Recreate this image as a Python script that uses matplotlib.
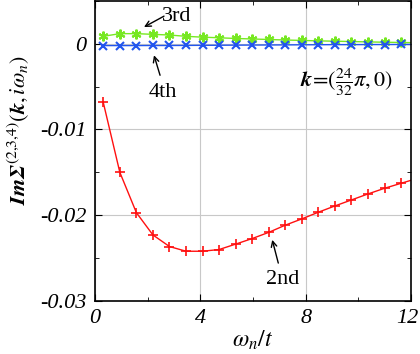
import numpy as np
import matplotlib
matplotlib.use('Agg')
import matplotlib.pyplot as plt
from matplotlib.transforms import ScaledTranslation

plt.rcParams['font.family'] = 'Liberation Serif'
plt.rcParams['mathtext.fontset'] = 'stix'

# Matsubara frequencies w_n = (2n+1) pi T, T = 0.1t
n = np.arange(20)
omega = (2 * n + 1) * np.pi * 0.1

second = [-0.00686, -0.0150, -0.0197, -0.0223, -0.02365, -0.0242, -0.0242,
          -0.0240, -0.02337, -0.02272, -0.0220, -0.02116, -0.02043, -0.01965,
          -0.01892, -0.01822, -0.01752, -0.01686, -0.01628, -0.0157]
third = [0.00085, 0.00116, 0.00116, 0.00108, 0.00100, 0.00085, 0.00075,
         0.00068, 0.00060, 0.00054, 0.00048, 0.00042, 0.00037, 0.00032,
         0.00028, 0.00024, 0.00020, 0.00016, 0.00013, 0.00010]
fourth = [-0.00023, -0.00023, -0.00023, -0.00022, -0.00022, -0.00021, -0.00020,
          -0.00019, -0.00018, -0.00017, -0.00016, -0.00015, -0.00014, -0.00013,
          -0.00012, -0.00012, -0.00011, -0.00011, -0.00010, -0.00010]

fig = plt.figure(figsize=(4.2, 3.54), dpi=100)
ax = fig.add_axes([0.2262, 0.1497, 0.7524, 0.8483])

ax.plot(omega, second, color='#ff1010', lw=1.0, marker='+', ms=6.5, mew=1.2)
ax.plot(omega, third, color='#77e822', lw=1.0, marker=(6, 2, 0), ms=7, mew=1.5)
ax.plot(omega, fourth, color='#2255ee', lw=1.0, marker='x', ms=6, mew=1.5)

ax.set_xlim(0, 12)
ax.set_ylim(-0.03, 0.005)
ax.set_xticks([0, 4, 8, 12])
ax.set_xticks([2, 6, 10], minor=True)
ax.set_yticks([0, -0.01, -0.02, -0.03])
ax.set_yticklabels(['0', '-0.01', '-0.02', '-0.03'])
ax.set_yticks([0.005, -0.005, -0.015, -0.025], minor=True)
ax.tick_params(which='both', direction='in', top=True, right=True, labelsize=16, pad=6)
ax.tick_params(which='major', length=5)
ax.tick_params(which='minor', length=3)
for lab in ax.get_xticklabels() + ax.get_yticklabels():
    lab.set_fontstyle('italic')
# pull the last x label in a little so it stays inside the figure
last = ax.get_xticklabels()[-1]
last.set_transform(last.get_transform() + ScaledTranslation(-4 / 100, 0, fig.dpi_scale_trans))
ax.grid(True, which='major', color='#c8c8c8', lw=0.8)
ax.set_axisbelow(True)
for s in ax.spines.values():
    s.set_linewidth(1.2)

ax.set_xlabel(r'$\omega_n/t$', fontsize=17, labelpad=0)
ax.set_ylabel(r'$\mathbfit{Im\Sigma}^{(2{,}3{,}4)}(\mathbfit{k},i\omega_n)$', fontsize=16)
ax.yaxis.set_label_coords(-0.2, 0.57)

arrow = dict(arrowstyle='->', color='black', lw=1.0, shrinkA=0, shrinkB=0)
ax.text(3.11, 0.00317, '3rd', fontsize=16, ha='center', va='center')
ax.annotate('', xy=(1.86, 0.00193), xytext=(2.62, 0.0032), arrowprops=arrow)
ax.text(2.58, -0.00566, '4th', fontsize=16, ha='center', va='center')
ax.annotate('', xy=(2.24, -0.00136), xytext=(2.47, -0.00369), arrowprops=arrow)
ax.text(7.13, -0.02744, '2nd', fontsize=16, ha='center', va='center')
ax.annotate('', xy=(6.73, -0.02287), xytext=(6.96, -0.02558), arrowprops=arrow)
ax.text(9.56, -0.00447, r'$\mathbfit{k}\!=\!(\frac{24}{32}\pi,\mathit{0})$', fontsize=16,
        ha='center', va='center')

fig.savefig('out.png', dpi=100)
